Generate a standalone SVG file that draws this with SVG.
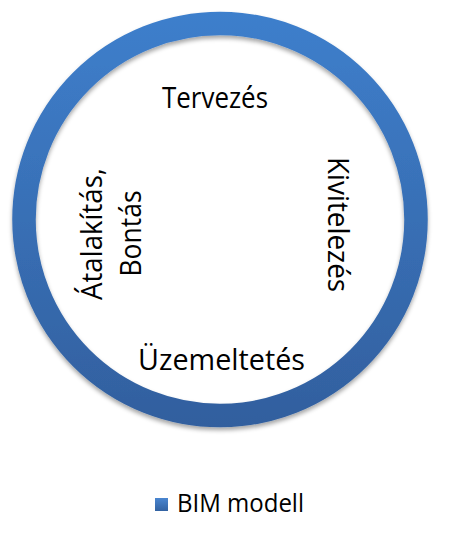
<svg xmlns="http://www.w3.org/2000/svg" width="449" height="533" viewBox="0 0 449 533">
  <defs>
    <linearGradient id="ringGrad" gradientUnits="userSpaceOnUse" x1="0" y1="12" x2="0" y2="427">
      <stop offset="0" stop-color="#3E7FCC"/>
      <stop offset="1" stop-color="#325F9E"/>
    </linearGradient>
    <linearGradient id="keyGrad" x1="0" y1="0" x2="0" y2="1">
      <stop offset="0" stop-color="#4A86D0"/>
      <stop offset="1" stop-color="#3262A2"/>
    </linearGradient>
    <filter id="shadow" x="-10%" y="-10%" width="120%" height="125%">
      <feDropShadow dx="0" dy="3" stdDeviation="2.2" flood-color="#000" flood-opacity="0.35"/>
    </filter>
  </defs>
  <style>
    .lbl { font-family: "Open Sans", "Noto Sans", "Liberation Sans", sans-serif; font-size: 29.5px; fill: #000; }
    .key { font-family: "Open Sans", "Noto Sans", "Liberation Sans", sans-serif; font-size: 25px; fill: #000; }
  </style>
  <rect width="449" height="533" fill="#fff"/>
  <g id="ring">
    <circle cx="220" cy="219.5" r="196" fill="none" stroke="url(#ringGrad)" stroke-width="23.5" filter="url(#shadow)"/>
  </g>
  <g id="connectors"/>
  <g id="label-tervezes">
    <text class="lbl" x="215" y="108" text-anchor="middle" textLength="106" lengthAdjust="spacingAndGlyphs">Tervezés</text>
  </g>
  <g id="label-kivitelezes">
    <text class="lbl" transform="translate(328,224.5) rotate(90)" x="0" y="0" text-anchor="middle" textLength="135" lengthAdjust="spacingAndGlyphs">Kivitelezés</text>
  </g>
  <g id="label-uzemeltetes">
    <text class="lbl" x="221.5" y="370" text-anchor="middle" textLength="167" lengthAdjust="spacingAndGlyphs">Üzemeltetés</text>
  </g>
  <g id="label-atalakitas">
    <text class="lbl" transform="translate(102,234) rotate(-90)" x="0" y="0" text-anchor="middle" textLength="132" lengthAdjust="spacingAndGlyphs">Átalakítás,</text>
    <text class="lbl" transform="translate(141,233.5) rotate(-90)" x="0" y="0" text-anchor="middle" textLength="86" lengthAdjust="spacingAndGlyphs">Bontás</text>
  </g>
  <g id="legend">
    <rect x="155" y="498" width="13" height="13" fill="url(#keyGrad)"/>
    <text class="key" x="177" y="512" textLength="127" lengthAdjust="spacingAndGlyphs">BIM modell</text>
  </g>
</svg>
